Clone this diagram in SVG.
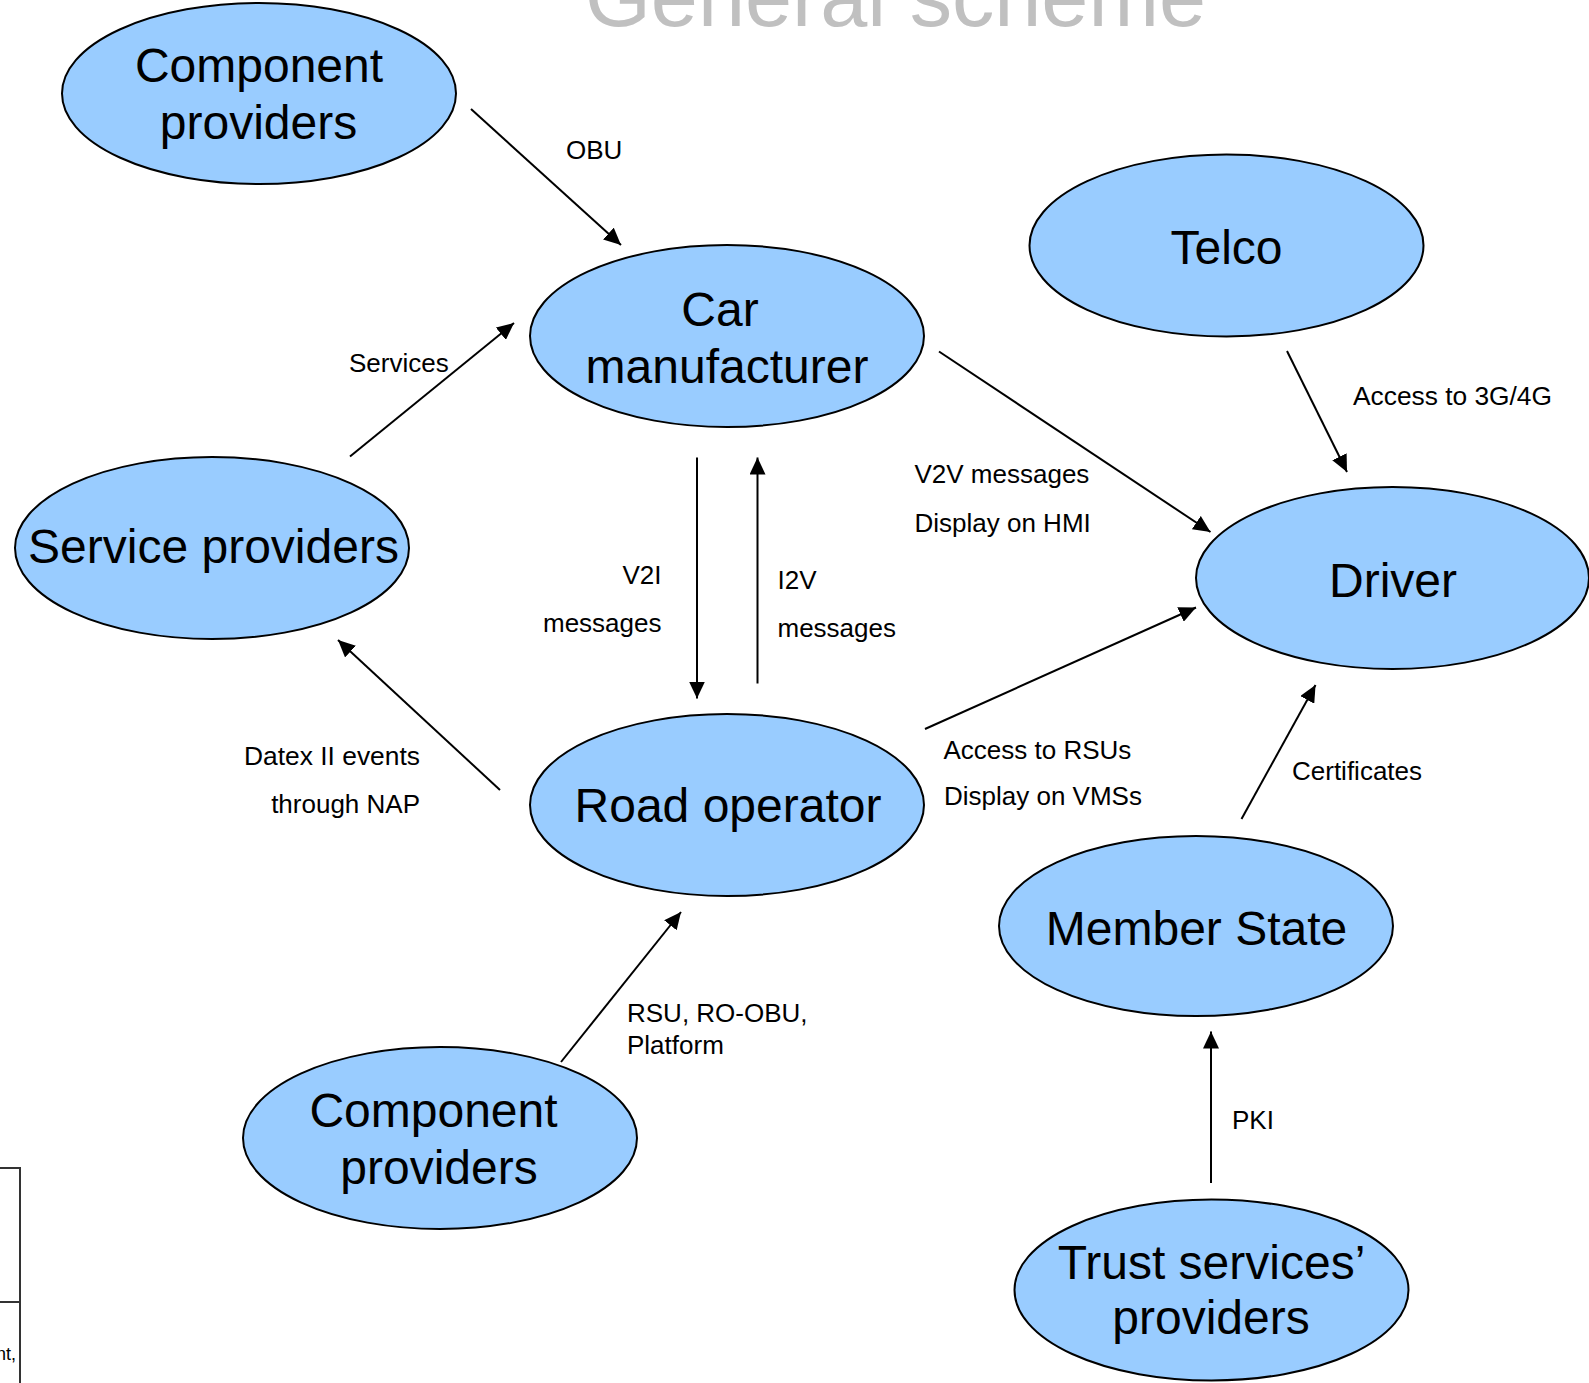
<svg xmlns="http://www.w3.org/2000/svg" width="1589" height="1383" viewBox="0 0 1589 1383">
  <style>
    .node ellipse { fill: #99ccff; stroke: #000; stroke-width: 2; }
    .node text { font-family: "Liberation Sans", Arial, sans-serif; font-size: 48px; fill: #000; text-anchor: middle; }
    .edge { stroke: #000; stroke-width: 2; fill: none; marker-end: url(#arrow); }
    .label { font-family: "Liberation Sans", Arial, sans-serif; font-size: 26px; fill: #000; }
    .end { text-anchor: end; }
    .title { font-family: "Liberation Sans", Arial, sans-serif; font-size: 85px; fill: #c0c0c0; }
    .frame { stroke: #333; stroke-width: 2; fill: none; }
  </style>
  <defs>
    <marker id="arrow" markerUnits="userSpaceOnUse" markerWidth="18" markerHeight="16" refX="17" refY="8" orient="auto">
      <path d="M0,0 L17,8 L0,16 z" fill="#000"/>
    </marker>
  </defs>

  <rect x="0" y="0" width="1589" height="1383" fill="#fff"/>

  <!-- page title, partly cut at the top edge -->
  <text class="title" x="585" y="26" textLength="621" lengthAdjust="spacingAndGlyphs">General scheme</text>

  <!-- fragment of a neighbouring table at the lower left -->
  <g id="table-fragment">
    <path class="frame" d="M0,1168 H20 V1383 M0,1302 H20"/>
    <text class="label end" x="16" y="1360" style="font-size:18px">nt,</text>
  </g>

  <!-- nodes -->
  <g id="component-providers-top" class="node">
    <ellipse cx="259" cy="93.5" rx="197" ry="90.5"/>
    <text x="259" y="82">Component</text>
    <text x="258.5" y="139">providers</text>
  </g>
  <g id="car-manufacturer" class="node">
    <ellipse cx="727" cy="336" rx="197" ry="91"/>
    <text x="720" y="326">Car</text>
    <text x="727" y="383">manufacturer</text>
  </g>
  <g id="telco" class="node">
    <ellipse cx="1226.5" cy="245.5" rx="197" ry="91"/>
    <text x="1226.5" y="264">Telco</text>
  </g>
  <g id="service-providers" class="node">
    <ellipse cx="212" cy="548" rx="197" ry="91"/>
    <text x="213.5" y="563">Service providers</text>
  </g>
  <g id="driver" class="node">
    <ellipse cx="1392.5" cy="578" rx="196.5" ry="91"/>
    <text x="1393" y="596.5">Driver</text>
  </g>
  <g id="road-operator" class="node">
    <ellipse cx="727" cy="805" rx="197" ry="91"/>
    <text x="728" y="821.5">Road operator</text>
  </g>
  <g id="member-state" class="node">
    <ellipse cx="1196" cy="926" rx="197" ry="90"/>
    <text x="1196.5" y="944.5">Member State</text>
  </g>
  <g id="component-providers-bottom" class="node">
    <ellipse cx="440" cy="1138" rx="197" ry="91"/>
    <text x="433.5" y="1127">Component</text>
    <text x="439" y="1183.5">providers</text>
  </g>
  <g id="trust-services-providers" class="node">
    <ellipse cx="1211.5" cy="1290" rx="197" ry="90.5"/>
    <text x="1211.5" y="1279">Trust services’</text>
    <text x="1211" y="1334">providers</text>
  </g>

  <!-- connectors -->
  <g id="connectors">
    <line class="edge" x1="471" y1="109" x2="621" y2="245"/>
    <line class="edge" x1="350" y1="456.5" x2="514" y2="323"/>
    <line class="edge" x1="939" y1="351.5" x2="1210.5" y2="532"/>
    <line class="edge" x1="1287" y1="351" x2="1347" y2="472"/>
    <line class="edge" x1="697" y1="457.5" x2="697" y2="698.5"/>
    <line class="edge" x1="757.5" y1="683.5" x2="757.5" y2="457.5"/>
    <line class="edge" x1="500" y1="790" x2="338" y2="640"/>
    <line class="edge" x1="925" y1="729" x2="1196" y2="607.5"/>
    <line class="edge" x1="561" y1="1062" x2="681" y2="912"/>
    <line class="edge" x1="1241.5" y1="819" x2="1315.5" y2="685"/>
    <line class="edge" x1="1211" y1="1183" x2="1211" y2="1031.5"/>

    <text class="label" x="566" y="159">OBU</text>
    <text class="label" x="349" y="371.5">Services</text>
    <text class="label" x="914.5" y="483">V2V messages</text>
    <text class="label" x="914.5" y="531.5">Display on HMI</text>
    <text class="label end" x="661.5" y="583.5">V2I</text>
    <text class="label end" x="661.5" y="631.5">messages</text>
    <text class="label" x="777.5" y="589">I2V</text>
    <text class="label" x="777.5" y="637">messages</text>
    <text class="label" x="1353" y="405" textLength="199" lengthAdjust="spacingAndGlyphs">Access to 3G/4G</text>
    <text class="label end" x="420" y="764.5" textLength="176" lengthAdjust="spacingAndGlyphs">Datex II events</text>
    <text class="label end" x="420" y="813">through NAP</text>
    <text class="label" x="943.5" y="758.5">Access to RSUs</text>
    <text class="label" x="944" y="805">Display on VMSs</text>
    <text class="label" x="1292" y="779.5">Certificates</text>
    <text class="label" x="627" y="1022">RSU, RO-OBU,</text>
    <text class="label" x="627" y="1053.5">Platform</text>
    <text class="label" x="1232" y="1128.5">PKI</text>
  </g>
</svg>
